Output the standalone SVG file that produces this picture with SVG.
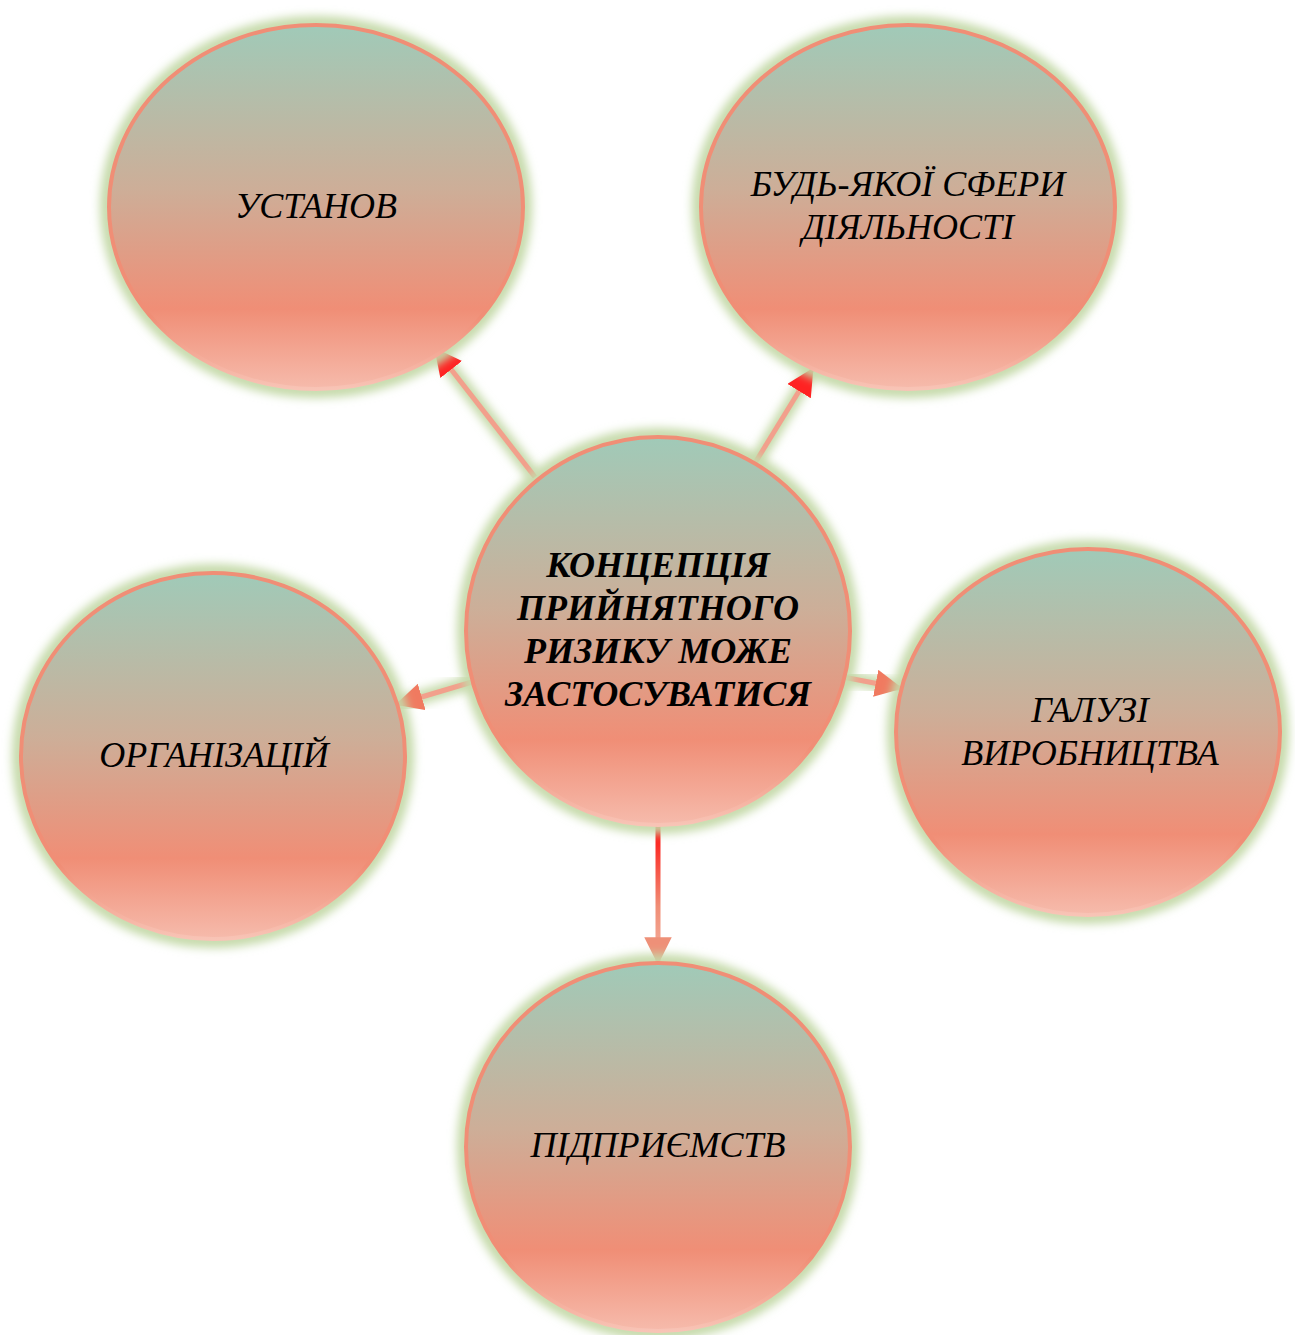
<svg xmlns="http://www.w3.org/2000/svg" width="1295" height="1335" viewBox="0 0 1295 1335">
<defs>
<linearGradient id="fill" x1="0" y1="0" x2="0" y2="1">
<stop offset="0" stop-color="#A0CAB8"/>
<stop offset="0.45" stop-color="#CDAE98"/>
<stop offset="0.78" stop-color="#F08E76"/>
<stop offset="1" stop-color="#F6BBAC"/>
</linearGradient>
<linearGradient id="ring" x1="0" y1="0" x2="0" y2="1">
<stop offset="0" stop-color="#F08E76"/>
<stop offset="0.8" stop-color="#F08E76"/>
<stop offset="1" stop-color="#F8C4B6"/>
</linearGradient>
<linearGradient id="down" x1="0" y1="0" x2="0" y2="1">
<stop offset="0" stop-color="#FF0A0A"/>
<stop offset="0.6" stop-color="#F08E76"/>
<stop offset="1" stop-color="#F4B0A0"/>
</linearGradient>
<filter id="glow" x="-20%" y="-20%" width="140%" height="140%">
<feGaussianBlur stdDeviation="5"/>
</filter>
<marker id="ah" viewBox="0 0 10 10" refX="9" refY="5" markerWidth="5.5" markerHeight="5.5" orient="auto" markerUnits="strokeWidth">
<path d="M0,0 L10,5 L0,10 Z" fill="#FF2222"/>
</marker>
<marker id="ah2" viewBox="0 0 10 10" refX="9" refY="5" markerWidth="5.5" markerHeight="5.5" orient="auto" markerUnits="strokeWidth">
<path d="M0,0 L10,5 L0,10 Z" fill="#F07A60"/>
</marker>
<marker id="ah3" viewBox="0 0 10 10" refX="9" refY="5" markerWidth="5.5" markerHeight="5.5" orient="auto" markerUnits="strokeWidth">
<path d="M0,0 L10,5 L0,10 Z" fill="#EE9078"/>
</marker>
</defs>
<style>
.halo{fill:none;stroke:#C4D9A8;stroke-width:14;filter:url(#glow)}
.body{fill:url(#fill);stroke:url(#ring);stroke-width:4}
.lbl{font-family:"Liberation Serif","Times New Roman",serif;font-style:italic;font-size:36px;fill:#000;text-anchor:middle}
.ctr{font-weight:bold;font-size:36px}
.lineglow{stroke:#C4D9A8;stroke-width:14;filter:url(#glow);fill:none}
.conn{stroke:#F2A08C;stroke-width:5;fill:none}
</style>
<g id="connectors">
<line class="lineglow" x1="535" y1="477" x2="436" y2="350"/>
<line class="lineglow" x1="755" y1="463" x2="812" y2="370"/>
<line class="lineglow" x1="472" y1="682" x2="398" y2="704"/>
<line class="lineglow" x1="843" y1="677" x2="900" y2="688"/>
<line class="lineglow" x1="658" y1="823" x2="658" y2="962"/>
<line class="conn" x1="535" y1="477" x2="436" y2="350" marker-end="url(#ah)"/>
<line class="conn" x1="755" y1="463" x2="812" y2="370" marker-end="url(#ah)"/>
<line class="conn" x1="472" y1="682" x2="398" y2="704" marker-end="url(#ah2)"/>
<line class="conn" x1="843" y1="677" x2="900" y2="688" marker-end="url(#ah2)"/>
<path d="M658,823 L658.01,962" stroke="url(#down)" stroke-width="5" fill="none" marker-end="url(#ah3)"/>
</g>
<g id="node-ustanov">
<ellipse class="halo" cx="316" cy="207" rx="209" ry="184"/>
<ellipse class="body" cx="316" cy="207" rx="207" ry="182"/>
<text class="lbl" x="316" y="218">УСТАНОВ</text>
</g>
<g id="node-sfera">
<ellipse class="halo" cx="908" cy="207" rx="209" ry="184"/>
<ellipse class="body" cx="908" cy="207" rx="207" ry="182"/>
<text class="lbl" x="908" y="196">БУДЬ-ЯКОЇ СФЕРИ</text>
<text class="lbl" x="908" y="239">ДІЯЛЬНОСТІ</text>
</g>
<g id="node-organizatsii">
<ellipse class="halo" cx="213" cy="756" rx="194" ry="185"/>
<ellipse class="body" cx="213" cy="756" rx="192" ry="183"/>
<text class="lbl" x="214" y="767">ОРГАНІЗАЦІЙ</text>
</g>
<g id="node-haluzi">
<ellipse class="halo" cx="1088" cy="732" rx="194" ry="185"/>
<ellipse class="body" cx="1088" cy="732" rx="192" ry="183"/>
<text class="lbl" x="1090" y="722">ГАЛУЗІ</text>
<text class="lbl" x="1090" y="765">ВИРОБНИЦТВА</text>
</g>
<g id="node-pidpryiemstv">
<ellipse class="halo" cx="658" cy="1147" rx="194" ry="186"/>
<ellipse class="body" cx="658" cy="1147" rx="192" ry="184"/>
<text class="lbl" x="658" y="1157">ПІДПРИЄМСТВ</text>
</g>
<g id="node-center">
<ellipse class="halo" cx="658" cy="631" rx="194" ry="196"/>
<ellipse class="body" cx="658" cy="631" rx="192" ry="194"/>
<text class="lbl ctr" x="658" y="577">КОНЦЕПЦІЯ</text>
<text class="lbl ctr" x="658" y="620">ПРИЙНЯТНОГО</text>
<text class="lbl ctr" x="658" y="663">РИЗИКУ МОЖЕ</text>
<text class="lbl ctr" x="658" y="706">ЗАСТОСУВАТИСЯ</text>
</g>
</svg>
